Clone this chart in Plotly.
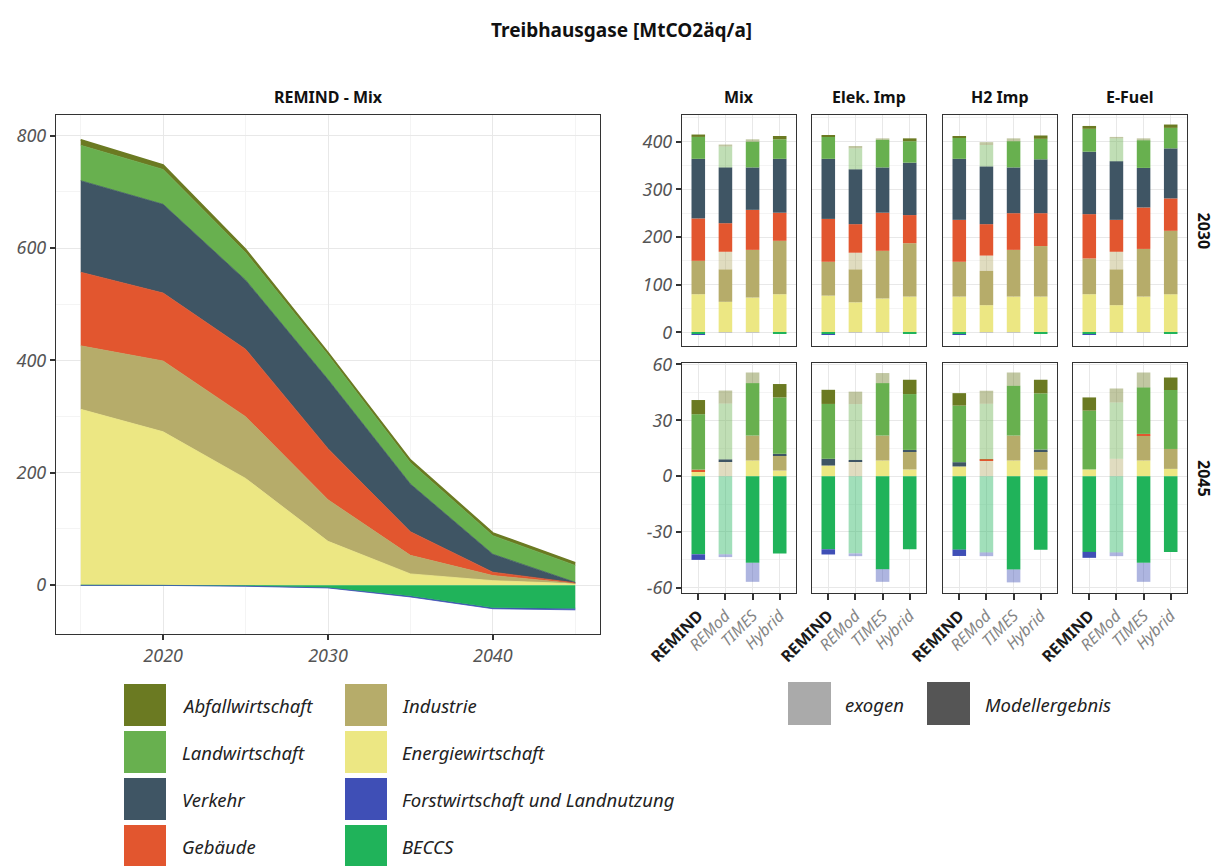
import plotly.graph_objects as go

# ---------------- data ----------------
years = [2015, 2020, 2025, 2030, 2035, 2040, 2045]
area_energie = [313, 273, 190, 78, 20, 8, 2.5]
area_industrie = [113, 126, 110, 74, 33, 9, 0.5]
area_gebaeude = [131, 121, 120, 91, 42, 6, 1]
area_verkehr = [163, 158, 123, 123, 85, 32, 1]
area_landwirtschaft = [63, 62, 49, 44, 38, 33, 30]
area_abfall = [10, 8, 6, 4, 5, 5, 5]
area_beccs = [0, 0, -1, -4, -19, -40, -41]
area_forst = [-0.5, -0.5, -1, -1, -2, -2, -3]

scenarios = ["Mix", "Elek. Imp", "H2 Imp", "E-Fuel"]
models = ["REMIND", "REMod", "TIMES", "Hybrid"]
bar_years = ["2030", "2045"]

# 16 values each: (Mix, Elek. Imp, H2 Imp, E-Fuel) x (REMIND, REMod, TIMES, Hybrid)
E_2030 = [80, 64, 73, 80, 77, 63, 71, 75, 75, 57, 75, 75, 80, 57, 75, 80]
I_2030 = [70, 68, 100, 112, 71, 69, 100, 112, 73, 72, 98, 106, 75, 75, 100, 133]
I_exo_2030 = [0, 37, 0, 0, 0, 35, 0, 0, 0, 32, 0, 0, 0, 37, 0, 0]
G_2030 = [89, 60, 84, 59, 90, 60, 80, 59, 88, 66, 77, 69, 93, 67, 87, 68]
V_2030 = [125, 117, 89, 113, 126, 115, 95, 110, 128, 121, 96, 113, 131, 123, 83, 105]
L_2030 = [46, 0, 54, 41, 46, 0, 58, 45, 44, 0, 55, 43, 48, 0, 58, 43]
L_exo_2030 = [0, 44, 0, 0, 0, 44, 0, 0, 0, 45, 0, 0, 0, 48, 0, 0]
A_2030 = [5, 0, 0, 7, 3, 0, 0, 6, 4, 0, 0, 7, 6, 0, 0, 7]
A_exo_2030 = [0, 4, 5, 0, 0, 5, 3, 0, 0, 6, 6, 0, 0, 3, 4, 0]
B_2030 = [-4, 0, 0, -3, -4, 0, 0, -3, -4, 0, 0, -3, -4, 0, 0, -3]
F_2030 = [-1, 0, 0, 0, -1, 0, 0, 0, -1, 0, 0, 0, -1, 0, 0, 0]
F_exo_2030 = [0, -1, -1, 0, 0, -1, -1, 0, 0, -1, -1, 0, 0, -1, -1, 0]

E_2045 = [2.5, 0, 8.4, 3, 5.7, 0, 8.4, 3.6, 5.2, 0, 8.4, 3.4, 3.6, 0, 8.4, 3.9]
I_2045 = [0, 0, 13.4, 8, 0, 0, 13.4, 9.6, 0, 0, 13.4, 10, 0, 0, 13.3, 10.7]
I_exo_2045 = [0, 8, 0, 0, 0, 8, 0, 0, 0, 8.4, 0, 0, 0, 9.3, 0, 0]
G_2045 = [1, 0, 0, 0, 0, 0, 0, 0, 0, 0.5, 0, 0, 0, 0, 1, 0]
V_2045 = [0, 1, 0, 1, 3.6, 0.7, 0, 0.9, 2.3, 0, 0, 0.9, 0, 0, 0, 0]
L_2045 = [29.8, 0, 28.2, 30.3, 29.5, 0, 28.2, 30, 30.4, 0, 26.8, 30.2, 31.6, 0, 25, 31.7]
L_exo_2045 = [0, 30, 0, 0, 0, 30, 0, 0, 0, 30, 0, 0, 0, 30.3, 0, 0]
A_2045 = [7.6, 0, 0, 7.2, 7.6, 0, 0, 7.7, 6.7, 0, 0, 7.3, 7.1, 0, 0, 6.7]
A_exo_2045 = [0, 7, 5.7, 0, 0, 6.7, 5.4, 0, 0, 7, 7.1, 0, 0, 7.5, 8, 0]
B_2045 = [-42, 0, -46.6, -41.6, -39.3, 0, -50, -39.3, -39.5, 0, -50.2, -39.5, -40.7, 0, -46.6, -40.7]
B_exo_2045 = [0, -42, 0, 0, 0, -41.5, 0, 0, 0, -41, 0, 0, 0, -41, 0, 0]
F_2045 = [-3, 0, 0, 0, -2.8, 0, 0, 0, -3.4, 0, 0, 0, -3.2, 0, 0, 0]
F_exo_2045 = [0, -1.5, -10.2, 0, 0, -1.5, -6.8, 0, 0, -2, -6.9, 0, 0, -2, -10.2, 0]

left_xticks = [2020, 2030, 2040]
left_yticks = [0, 200, 400, 600, 800]
top_yticks = [0, 100, 200, 300, 400]
bottom_yticks = [-60, -30, 0, 30, 60]

legend_col1 = ["Abfallwirtschaft", "Landwirtschaft", "Verkehr", "Gebäude"]
legend_col2 = ["Industrie", "Energiewirtschaft", "Forstwirtschaft und Landnutzung", "BECCS"]

# ---------------- styling ----------------
W, H = 1218, 866
FONT = "Noto Sans"
TICK_COL = "#555555"
FRAME = "#333333"
GRID = "#e8e8e8"
GRID_MINOR = "#f4f4f4"
EXO_ALPHA = 0.42
TICK_SIZE = 18

colors = {
    "Abfallwirtschaft": "#6b7a22",
    "Landwirtschaft": "#68b04f",
    "Verkehr": "#3f5564",
    "Gebäude": "#e2562f",
    "Industrie": "#b6ac6a",
    "Energiewirtschaft": "#ece783",
    "Forstwirtschaft und Landnutzung": "#3f4fb6",
    "BECCS": "#20b35a",
}


def rgba(h, a):
    h = h.lstrip("#")
    r, g, b = int(h[0:2], 16), int(h[2:4], 16), int(h[4:6], 16)
    return f"rgba({r},{g},{b},{a})"


def xd(a, b):
    return [a / W, b / W]


def yd(top, bottom):
    return [1 - bottom / H, 1 - top / H]


def px(x):
    return x / W


def py(y):
    return 1 - y / H


fig = go.Figure()

# ---------------- left area chart ----------------
pos_series = [
    ("Energiewirtschaft", area_energie),
    ("Industrie", area_industrie),
    ("Gebäude", area_gebaeude),
    ("Verkehr", area_verkehr),
    ("Landwirtschaft", area_landwirtschaft),
    ("Abfallwirtschaft", area_abfall),
]
for name, vals in pos_series:
    c = colors[name]
    fig.add_trace(go.Scatter(
        x=years, y=vals, mode="lines", stackgroup="pos",
        line=dict(width=0.8 if name != "Abfallwirtschaft" else 1.6, color=c),
        fillcolor=c, showlegend=False, hoverinfo="skip", xaxis="x", yaxis="y"))
neg_series = [("BECCS", area_beccs), ("Forstwirtschaft und Landnutzung", area_forst)]
for name, vals in neg_series:
    c = colors[name]
    fig.add_trace(go.Scatter(
        x=years, y=vals, mode="lines", stackgroup="neg",
        line=dict(width=0.8, color=c), fillcolor=c,
        showlegend=False, hoverinfo="skip", xaxis="x", yaxis="y"))

# ---------------- facet bars ----------------
bar_series = {
    "2030": [
        ("Energiewirtschaft", E_2030, False),
        ("Industrie", I_2030, False), ("Industrie", I_exo_2030, True),
        ("Gebäude", G_2030, False),
        ("Verkehr", V_2030, False),
        ("Landwirtschaft", L_2030, False), ("Landwirtschaft", L_exo_2030, True),
        ("Abfallwirtschaft", A_2030, False), ("Abfallwirtschaft", A_exo_2030, True),
        ("BECCS", B_2030, False),
        ("Forstwirtschaft und Landnutzung", F_2030, False),
        ("Forstwirtschaft und Landnutzung", F_exo_2030, True),
    ],
    "2045": [
        ("Energiewirtschaft", E_2045, False),
        ("Industrie", I_2045, False), ("Industrie", I_exo_2045, True),
        ("Gebäude", G_2045, False),
        ("Verkehr", V_2045, False),
        ("Landwirtschaft", L_2045, False), ("Landwirtschaft", L_exo_2045, True),
        ("Abfallwirtschaft", A_2045, False), ("Abfallwirtschaft", A_exo_2045, True),
        ("BECCS", B_2045, False), ("BECCS", B_exo_2045, True),
        ("Forstwirtschaft und Landnutzung", F_2045, False),
        ("Forstwirtschaft und Landnutzung", F_exo_2045, True),
    ],
}

col_px = [(682, 796), (812, 926), (943, 1057), (1073, 1187)]
row_px = [(115, 346), (363, 593)]
row_ranges = [[-28.7, 456], [-62.8, 60.8]]
row_ticks = [top_yticks, bottom_yticks]
row_minor = [[50, 150, 250, 350, 450], [-45, -15, 15, 45]]

xpos = [1, 2, 3, 4]
model_ticktext = ["<span style='color:#1a1a1a'><b>" + models[0] + "</b></span>"] + \
    ["<i>" + m + "</i>" for m in models[1:]]

layout_axes = {}
for r, yr in enumerate(bar_years):
    for c, sc in enumerate(scenarios):
        k = 2 + r * 4 + c
        for name, vals, exo in bar_series[yr]:
            base = colors[name]
            fig.add_trace(go.Bar(
                x=xpos, y=vals[c * 4:(c + 1) * 4], width=0.5,
                marker=dict(color=rgba(base, EXO_ALPHA) if exo else base, line=dict(width=0)),
                showlegend=False, hoverinfo="skip",
                xaxis=f"x{k}", yaxis=f"y{k}"))
        layout_axes[f"xaxis{k}"] = dict(
            domain=xd(*col_px[c]), anchor=f"y{k}", range=[0.4, 4.6],
            tickmode="array", tickvals=xpos, ticktext=model_ticktext,
            showticklabels=(r == 1), ticks="outside" if r == 1 else "",
            ticklen=6, tickwidth=1.6, tickcolor=FRAME, tickangle=-45,
            tickfont=dict(family=FONT, size=16, color="#858585"),
            showgrid=True, gridcolor=GRID, gridwidth=1,
            showline=True, mirror=True, linecolor=FRAME, linewidth=1.3,
            zeroline=False, automargin=False, fixedrange=True)
        layout_axes[f"yaxis{k}"] = dict(
            domain=yd(*row_px[r]), anchor=f"x{k}", range=row_ranges[r],
            tickmode="array", tickvals=row_ticks[r],
            ticktext=[f"<i>{v}</i>" for v in row_ticks[r]],
            showticklabels=(c == 0), ticks="outside" if c == 0 else "",
            ticklen=5, tickwidth=1.6, tickcolor=FRAME,
            tickfont=dict(family=FONT, size=TICK_SIZE, color=TICK_COL),
            showgrid=True, gridcolor=GRID, gridwidth=1,
            minor=dict(tickmode="array", tickvals=row_minor[r], showgrid=True,
                       gridcolor=GRID_MINOR, gridwidth=0.6, ticks=""),
            showline=True, mirror=True, linecolor=FRAME, linewidth=1.3,
            zeroline=False, automargin=False, fixedrange=True)

# ---------------- annotations ----------------
ann = []


def add_text(text, x, y, size, color="#111111", xanchor="center", angle=0):
    ann.append(dict(text=text, x=px(x), y=py(y), xref="paper", yref="paper",
                    xanchor=xanchor, yanchor="middle", showarrow=False, textangle=angle,
                    font=dict(family=FONT, size=size, color=color)))


add_text("<b>Treibhausgase [MtCO2äq/a]</b>", 621, 30, 19)
add_text("<b>REMIND - Mix</b>", 328, 97, 16)
for c, sc in enumerate(scenarios):
    add_text(f"<b>{sc}</b>", (col_px[c][0] + col_px[c][1]) / 2, 97, 16)
for r, yr in enumerate(bar_years):
    add_text(f"<b>{yr}</b>", 1204, (row_px[r][0] + row_px[r][1]) / 2, 16, angle=90)

shapes = []
SQ = 42
row_tops = [684, 731, 778, 825]
for col_x, txt_x, names in [(124, 180, legend_col1), (345, 400, legend_col2)]:
    for i, name in enumerate(names):
        top = row_tops[i]
        shapes.append(dict(type="rect", xref="paper", yref="paper",
                           x0=px(col_x), x1=px(col_x + SQ), y0=py(top + SQ), y1=py(top),
                           fillcolor=colors[name], line=dict(width=0), layer="above"))
        add_text(f"<i>{name}</i>", txt_x, top + SQ / 2, 18.5, "#222222", "left")

for sq_x, txt_x, col, label in [(788, 843, "#aaaaaa", "exogen"), (927, 983, "#555555", "Modellergebnis")]:
    shapes.append(dict(type="rect", xref="paper", yref="paper",
                       x0=px(sq_x), x1=px(sq_x + 43), y0=py(725), y1=py(682),
                       fillcolor=col, line=dict(width=0), layer="above"))
    add_text(f"<i>{label}</i>", txt_x, 704, 18.5, "#222222", "left")

fig.update_layout(
    width=W, height=H, margin=dict(l=0, r=0, t=0, b=0),
    paper_bgcolor="white", plot_bgcolor="white",
    barmode="relative", showlegend=False,
    font=dict(family=FONT, color=TICK_COL),
    annotations=ann, shapes=shapes,
    xaxis=dict(domain=xd(56, 600), anchor="y", range=[2013.5, 2046.5],
               tickmode="array", tickvals=left_xticks,
               ticktext=[f"<i>{v}</i>" for v in left_xticks],
               ticks="outside", ticklen=5, tickwidth=1.6, tickcolor=FRAME,
               tickfont=dict(family=FONT, size=TICK_SIZE, color=TICK_COL),
               showgrid=True, gridcolor=GRID,
               minor=dict(tickmode="array", tickvals=[2015, 2025, 2035, 2045], showgrid=True,
                          gridcolor=GRID_MINOR, gridwidth=0.6, ticks=""),
               showline=True, mirror=True, linecolor=FRAME, linewidth=1.3,
               zeroline=False, automargin=False, fixedrange=True),
    yaxis=dict(domain=yd(115, 634), anchor="x", range=[-87, 837],
               tickmode="array", tickvals=left_yticks,
               ticktext=[f"<i>{v}</i>" for v in left_yticks],
               ticks="outside", ticklen=5, tickwidth=1.6, tickcolor=FRAME,
               tickfont=dict(family=FONT, size=TICK_SIZE, color=TICK_COL),
               showgrid=True, gridcolor=GRID,
               minor=dict(tickmode="array", tickvals=[100, 300, 500, 700], showgrid=True,
                          gridcolor=GRID_MINOR, gridwidth=0.6, ticks=""),
               showline=True, mirror=True, linecolor=FRAME, linewidth=1.3,
               zeroline=False, automargin=False, fixedrange=True),
    **layout_axes,
)

fig.write_html("out.html", post_script="document.body.style.margin='0';",
               config={"displayModeBar": False})
